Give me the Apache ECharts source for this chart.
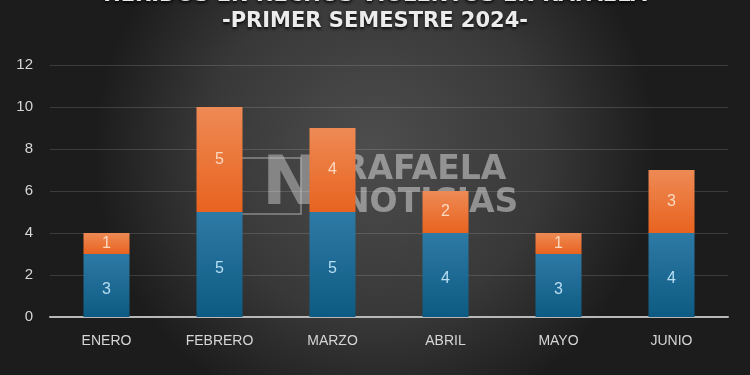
<!DOCTYPE html>
<html><head><meta charset="utf-8">
<script src="https://cdn.jsdelivr.net/npm/echarts@6/dist/echarts.min.js"></script>
<style>html,body{margin:0;padding:0;background:#2b2b2b}#c{width:750px;height:375px}</style>
</head><body><div id="c"></div>
<script>
const categories = ['ENERO','FEBRERO','MARZO','ABRIL','MAYO','JUNIO'];
const blueValues = [3,5,5,4,3,4];
const orangeValues = [1,5,4,2,1,3];
const titleLine1 = 'HERIDOS EN HECHOS VIOLENTOS EN RAFAELA';
const titleLine2 = '-PRIMER SEMESTRE 2024-';

const chart = echarts.init(document.getElementById('c'));
const lin = (a,b)=>({type:'linear',x:0,y:0,x2:0,y2:1,colorStops:[{offset:0,color:a},{offset:1,color:b}]});
chart.setOption({
  backgroundColor:{type:'radial',x:0.5,y:0.4,r:0.75,colorStops:[{offset:0,color:'#4d4d4d'},{offset:0.6,color:'#383838'},{offset:1,color:'#1c1c1c'}]},
  animation:false,
  grid:{left:50,right:22,top:65,bottom:58},
  xAxis:{type:'category',data:categories,
    axisLine:{lineStyle:{color:'#b8b8b8',width:2}},axisTick:{show:false},
    axisLabel:{color:'#d6d6d6',fontSize:14,fontFamily:'Liberation Sans',margin:17}},
  yAxis:{type:'value',min:0,max:12,interval:2,
    axisLine:{show:false},axisTick:{show:false},
    splitLine:{lineStyle:{color:'rgba(255,255,255,0.14)',width:1}},
    axisLabel:{color:'#d6d6d6',fontSize:15,fontFamily:'Liberation Sans',margin:17}},
  series:[
    {type:'bar',stack:'a',data:blueValues,barWidth:46,
      itemStyle:{color:lin('#2e7aa6','#0d5a82')},
      label:{show:true,position:'inside',color:'#b6def2',fontSize:16,fontFamily:'Liberation Sans',offset:[0,4]}},
    {type:'bar',stack:'a',data:orangeValues,barWidth:46,
      itemStyle:{color:lin('#ee8a55','#e8631f')},
      label:{show:true,position:'inside',color:'#fbd8c0',fontSize:16,fontFamily:'Liberation Sans'}}
  ],
  graphic:[
    {type:'text',left:'center',top:-15,style:{text:titleLine1,fill:'#e8e8e8',font:'bold 21px "DejaVu Sans"',textShadowColor:'rgba(0,0,0,0.8)',textShadowBlur:3,textShadowOffsetY:2}},
    {type:'text',left:'center',top:11,style:{text:titleLine2,fill:'#ececec',font:'bold 21px "DejaVu Sans"',textShadowColor:'rgba(0,0,0,0.8)',textShadowBlur:3,textShadowOffsetY:2}},
    {type:'rect',shape:{x:241,y:158,width:60,height:56},style:{fill:'none',stroke:'rgba(200,200,200,0.55)',lineWidth:1.5}},
    {type:'text',x:262,y:152,style:{text:'N',fill:'rgba(190,190,190,0.55)',font:'bold 68px "DejaVu Sans"'}},
    {type:'text',x:342,y:154,style:{text:'RAFAELA',fill:'rgba(200,200,200,0.6)',font:'bold 33px "DejaVu Sans"'}},
    {type:'text',x:342,y:187,style:{text:'NOTICIAS',fill:'rgba(200,200,200,0.6)',font:'bold 33px "DejaVu Sans"'}}
  ]
});
</script></body></html>
